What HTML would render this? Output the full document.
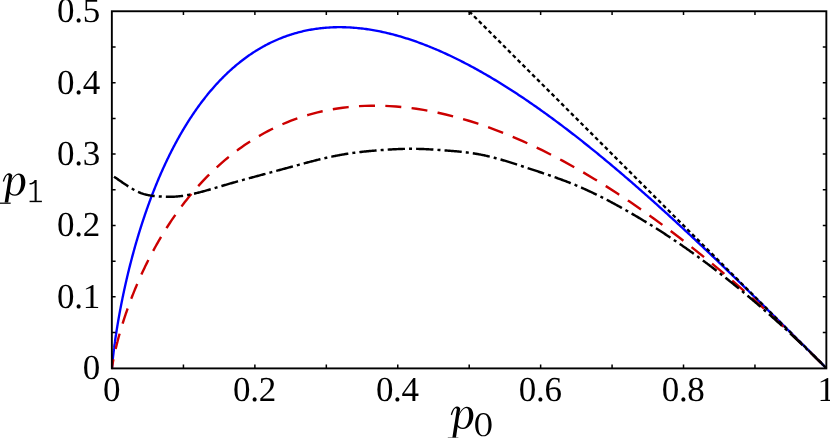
<!DOCTYPE html>
<html>
<head>
<meta charset="utf-8">
<title>p1 vs p0</title>
<style>
html,body{margin:0;padding:0;background:#fff;}
body{width:830px;height:438px;overflow:hidden;font-family:"Liberation Serif",serif;}
svg{display:block;will-change:transform;}
text{font-family:"Liberation Serif",serif;fill:#000;text-rendering:geometricPrecision;}
</style>
</head>
<body>
<svg width="830" height="438" viewBox="0 0 830 438">
<rect x="0" y="0" width="830" height="438" fill="#ffffff"/>
<defs><clipPath id="plot"><rect x="112.0" y="11.4" width="715.6" height="358.0"/></clipPath></defs>
<g fill="none" stroke-linejoin="round" clip-path="url(#plot)">
<path d="M112.00,368.20 L112.00,368.20 L112.00,368.20 L112.00,368.20 L112.00,368.20 L112.00,368.20 L112.00,368.20 L112.00,368.20 L112.00,368.20 L112.00,368.20 L112.00,368.20 L112.00,368.20 L112.00,368.20 L112.00,368.20 L112.00,368.20 L112.00,368.20 L112.00,368.20 L112.00,368.20 L112.00,368.20 L112.00,368.20 L112.00,368.20 L112.00,368.20 L112.00,368.20 L112.00,368.20 L112.00,368.20 L112.00,368.20 L112.00,368.20 L112.00,368.20 L112.00,368.20 L112.00,368.20 L112.00,368.20 L112.00,368.20 L112.00,368.20 L112.00,368.20 L112.00,368.20 L112.00,368.20 L112.00,368.20 L112.00,368.20 L112.00,368.20 L112.00,368.20 L112.00,368.20 L112.00,368.20 L112.00,368.20 L112.00,368.20 L112.00,368.20 L112.00,368.20 L112.00,368.20 L112.00,368.20 L112.00,368.20 L112.00,368.20 L112.00,368.20 L112.00,368.20 L112.00,368.20 L112.00,368.20 L112.00,368.20 L112.00,368.20 L112.00,368.20 L112.00,368.20 L112.00,368.20 L112.00,368.20 L112.00,368.20 L112.00,368.20 L112.00,368.20 L112.00,368.20 L112.00,368.20 L112.00,368.20 L112.00,368.20 L112.00,368.20 L112.00,368.20 L112.00,368.20 L112.00,368.20 L112.00,368.20 L112.00,368.20 L112.00,368.20 L112.00,368.20 L112.00,368.20 L112.00,368.20 L112.00,368.20 L112.00,368.20 L112.00,368.20 L112.00,368.20 L112.00,368.20 L112.00,368.20 L112.00,368.20 L112.00,368.20 L112.00,368.20 L112.00,368.20 L112.00,368.20 L112.00,368.20 L112.00,368.20 L112.00,368.20 L112.00,368.20 L112.00,368.20 L112.00,368.20 L112.00,368.20 L112.00,368.20 L112.00,368.20 L112.00,368.20 L112.00,368.20 L112.00,368.20 L112.00,368.20 L112.00,368.20 L112.00,368.20 L112.00,368.20 L112.00,368.20 L112.00,368.20 L112.00,368.20 L112.00,368.20 L112.00,368.20 L112.00,368.20 L112.00,368.20 L112.00,368.20 L112.00,368.20 L112.00,368.20 L112.00,368.20 L112.00,368.20 L112.00,368.20 L112.00,368.20 L112.00,368.20 L112.00,368.20 L112.00,368.20 L112.00,368.20 L112.00,368.20 L112.00,368.20 L112.00,368.20 L112.00,368.20 L112.00,368.20 L112.00,368.20 L112.00,368.20 L112.00,368.20 L112.00,368.20 L112.00,368.20 L112.00,368.20 L112.00,368.20 L112.00,368.20 L112.00,368.20 L112.00,368.20 L112.00,368.20 L112.00,368.20 L112.00,368.20 L112.00,368.20 L112.00,368.20 L112.00,368.20 L112.00,368.20 L112.00,368.20 L112.00,368.20 L112.00,368.20 L112.00,368.20 L112.00,368.20 L112.00,368.20 L112.00,368.20 L112.00,368.20 L112.00,368.20 L112.00,368.20 L112.00,368.20 L112.00,368.20 L112.00,368.20 L112.00,368.20 L112.00,368.20 L112.00,368.20 L112.00,368.20 L112.00,368.20 L112.00,368.20 L112.00,368.20 L112.00,368.20 L112.00,368.20 L112.00,368.20 L112.00,368.20 L112.00,368.20 L112.00,368.20 L112.00,368.20 L112.00,368.20 L112.00,368.20 L112.00,368.20 L112.00,368.20 L112.00,368.20 L112.00,368.20 L112.00,368.20 L112.00,368.20 L112.00,368.20 L112.00,368.20 L112.00,368.20 L112.00,368.20 L112.00,368.20 L112.00,368.20 L112.00,368.20 L112.00,368.20 L112.00,368.20 L112.00,368.20 L112.00,368.20 L112.00,368.20 L112.00,368.20 L112.00,368.20 L112.00,368.20 L112.00,368.20 L112.00,368.20 L112.00,368.20 L112.00,368.20 L112.00,368.20 L112.00,368.20 L112.00,368.20 L112.00,368.20 L112.00,368.20 L112.00,368.20 L112.00,368.20 L112.00,368.20 L112.00,368.20 L112.00,368.20 L112.00,368.20 L112.00,368.20 L112.00,368.20 L112.00,368.20 L112.00,368.20 L112.00,368.20 L112.00,368.20 L112.00,368.20 L112.00,368.20 L112.00,368.20 L112.00,368.20 L112.00,368.20 L112.00,368.20 L112.00,368.20 L112.00,368.20 L112.00,368.20 L112.00,368.20 L112.00,368.20 L112.00,368.20 L112.00,368.20 L112.00,368.20 L112.00,368.20 L112.00,368.20 L112.00,368.20 L112.00,368.20 L112.00,368.20 L112.00,368.20 L112.00,368.20 L112.00,368.20 L112.00,368.20 L112.00,368.20 L112.00,368.20 L112.00,368.20 L112.00,368.20 L112.00,368.20 L112.00,368.20 L112.00,368.20 L112.00,368.20 L112.00,368.20 L112.00,368.20 L112.00,368.20 L112.00,368.20 L112.00,368.20 L112.00,368.20 L112.00,368.20 L112.00,368.20 L112.00,368.20 L112.00,368.20 L112.00,368.20 L112.00,368.20 L112.00,368.20 L112.00,368.20 L112.00,368.20 L112.00,368.20 L112.00,368.20 L112.00,368.20 L112.00,368.20 L112.00,368.20 L112.00,368.20 L112.00,368.20 L112.00,368.20 L112.00,368.20 L112.00,368.20 L112.00,368.20 L112.00,368.20 L112.00,368.20 L112.00,368.20 L112.00,368.20 L112.00,368.20 L112.00,368.20 L112.00,368.20 L112.00,368.20 L112.00,368.20 L112.00,368.20 L112.00,368.20 L112.00,368.20 L112.00,368.20 L112.00,368.20 L112.00,368.20 L112.00,368.20 L112.00,368.20 L112.00,368.20 L112.00,368.20 L112.00,368.20 L112.00,368.20 L112.00,368.20 L112.00,368.20 L112.00,368.20 L112.00,368.20 L112.00,368.20 L112.00,368.20 L112.00,368.20 L112.00,368.20 L112.00,368.20 L112.00,368.20 L112.00,368.20 L112.00,368.20 L112.00,368.20 L112.00,368.20 L112.00,368.20 L112.00,368.20 L112.00,368.20 L112.00,368.20 L112.00,368.20 L112.00,368.20 L112.00,368.20 L112.00,368.20 L112.00,368.20 L112.00,368.20 L112.00,368.20 L112.00,368.20 L112.00,368.20 L112.00,368.20 L112.00,368.20 L112.00,368.20 L112.00,368.20 L112.00,368.20 L112.00,368.20 L112.00,368.20 L112.00,368.20 L112.00,368.20 L112.00,368.20 L112.00,368.20 L112.00,368.20 L112.00,368.20 L112.00,368.20 L112.00,368.20 L112.00,368.20 L112.00,368.20 L112.00,368.20 L112.00,368.20 L112.00,368.20 L112.00,368.20 L112.00,368.20 L112.00,368.20 L112.00,368.20 L112.00,368.20 L112.00,368.20 L112.00,368.20 L112.00,368.20 L112.00,368.20 L112.00,368.20 L112.00,368.20 L112.00,368.20 L112.00,368.20 L112.00,368.20 L112.00,368.20 L112.00,368.20 L112.00,368.20 L112.00,368.20 L112.00,368.20 L112.00,368.20 L112.00,368.20 L112.00,368.20 L112.00,368.20 L112.00,368.20 L112.00,368.20 L112.00,368.20 L112.00,368.20 L112.00,368.20 L112.00,368.20 L112.00,368.20 L112.00,368.20 L112.00,368.20 L112.00,368.20 L112.00,368.20 L112.00,368.20 L112.00,368.20 L112.00,368.20 L112.00,368.20 L112.00,368.20 L112.00,368.20 L112.00,368.20 L112.00,368.20 L112.00,368.20 L112.00,368.20 L112.00,368.20 L112.00,368.20 L112.00,368.20 L112.00,368.20 L112.00,368.20 L112.00,368.20 L112.00,368.20 L112.00,368.20 L112.00,368.20 L112.00,368.20 L112.00,368.20 L112.00,368.20 L112.00,368.20 L112.00,368.20 L112.00,368.20 L112.00,368.20 L112.00,368.20 L112.00,368.20 L112.00,368.20 L112.00,368.20 L112.00,368.20 L112.00,368.20 L112.00,368.20 L112.00,368.20 L112.00,368.20 L112.00,368.20 L112.00,368.20 L112.00,368.20 L112.00,368.20 L112.00,368.20 L112.00,368.20 L112.00,368.20 L112.00,368.20 L112.00,368.20 L112.00,368.20 L112.00,368.20 L112.00,368.20 L112.00,368.20 L112.00,368.20 L112.00,368.20 L112.00,368.20 L112.00,368.20 L112.00,368.20 L112.00,368.20 L112.00,368.20 L112.00,368.20 L112.00,368.20 L112.00,368.20 L112.00,368.20 L112.00,368.20 L112.00,368.20 L112.00,368.20 L112.00,368.20 L112.00,368.20 L112.00,368.20 L112.00,368.20 L112.00,368.20 L112.00,368.20 L112.00,368.20 L112.00,368.20 L112.00,368.20 L112.00,368.20 L112.00,368.20 L112.00,368.20 L112.00,368.20 L112.00,368.20 L112.00,368.20 L112.00,368.20 L112.00,368.20 L112.00,368.20 L112.00,368.20 L112.00,368.20 L112.00,368.20 L112.00,368.20 L112.00,368.20 L112.00,368.20 L112.00,368.20 L112.00,368.20 L112.00,368.20 L112.00,368.20 L112.00,368.20 L112.00,368.20 L112.00,368.20 L112.00,368.20 L112.00,368.20 L112.00,368.20 L112.00,368.20 L112.00,368.20 L112.00,368.20 L112.00,368.20 L112.00,368.20 L112.00,368.20 L112.00,368.20 L112.00,368.20 L112.00,368.20 L112.00,368.20 L112.00,368.20 L112.00,368.20 L112.00,368.20 L112.00,368.20 L112.00,368.20 L112.00,368.20 L112.00,368.20 L112.00,368.20 L112.00,368.20 L112.00,368.20 L112.00,368.20 L112.00,368.20 L112.00,368.20 L112.00,368.20 L112.00,368.20 L112.00,368.20 L112.00,368.20 L112.00,368.20 L112.00,368.20 L112.00,368.20 L112.00,368.20 L112.00,368.20 L112.00,368.20 L112.00,368.20 L112.00,368.20 L112.00,368.20 L112.00,368.20 L112.00,368.20 L112.00,368.20 L112.00,368.20 L112.00,368.20 L112.00,368.20 L112.00,368.20 L112.00,368.20 L112.00,368.20 L112.00,368.20 L112.00,368.20 L112.00,368.20 L112.00,368.20 L112.00,368.20 L112.00,368.20 L112.00,368.20 L112.00,368.20 L112.00,368.20 L112.00,368.20 L112.00,368.20 L112.00,368.20 L112.00,368.20 L112.00,368.20 L112.00,368.20 L112.00,368.20 L112.00,368.20 L112.00,368.20 L112.00,368.20 L112.00,368.20 L112.00,368.20 L112.00,368.20 L112.00,368.20 L112.00,368.20 L112.00,368.20 L112.00,368.20 L112.00,368.20 L112.00,368.20 L112.00,368.20 L112.00,368.20 L112.00,368.20 L112.00,368.20 L112.00,368.20 L112.00,368.20 L112.00,368.20 L112.00,368.20 L112.00,368.20 L112.00,368.20 L112.00,368.20 L112.00,368.20 L112.00,368.20 L112.00,368.20 L112.00,368.20 L112.00,368.20 L112.00,368.20 L112.00,368.20 L112.00,368.20 L112.00,368.20 L112.00,368.20 L112.00,368.20 L112.00,368.20 L112.00,368.20 L112.00,368.20 L112.00,368.20 L112.00,368.20 L112.00,368.20 L112.00,368.20 L112.00,368.20 L112.00,368.20 L112.00,368.20 L112.00,368.20 L112.00,368.20 L112.00,368.20 L112.00,368.20 L112.00,368.20 L112.00,368.20 L112.00,368.20 L112.00,368.20 L112.00,368.20 L112.00,368.20 L112.00,368.20 L112.00,368.20 L112.00,368.20 L112.00,368.20 L112.00,368.20 L112.00,368.20 L112.00,368.20 L112.00,368.20 L112.00,368.20 L112.00,368.20 L112.00,368.20 L112.00,368.20 L112.00,368.20 L112.00,368.20 L112.00,368.20 L112.00,368.20 L112.00,368.20 L112.00,368.20 L112.00,368.20 L112.00,368.20 L112.00,368.20 L112.00,368.20 L112.00,368.20 L112.00,368.20 L112.00,368.20 L112.00,368.20 L112.00,368.20 L112.00,368.20 L112.00,368.20 L112.00,368.20 L112.00,368.20 L112.00,368.20 L112.00,368.20 L112.00,368.20 L112.00,368.20 L112.00,368.20 L112.00,368.20 L112.00,368.20 L112.00,368.20 L112.00,368.20 L112.00,368.20 L112.00,368.20 L112.00,368.20 L112.00,368.20 L112.00,368.20 L112.00,368.20 L112.00,368.20 L112.00,368.20 L112.00,368.20 L112.00,368.20 L112.00,368.20 L112.00,368.20 L112.00,368.20 L112.00,368.20 L112.00,368.20 L112.00,368.20 L112.00,368.20 L112.00,368.20 L112.00,368.20 L112.00,368.20 L112.00,368.20 L112.00,368.20 L112.00,368.20 L112.00,368.20 L112.00,368.20 L112.00,368.20 L112.00,368.20 L112.00,368.20 L112.00,368.20 L112.00,368.20 L112.00,368.20 L112.00,368.20 L112.00,368.20 L112.00,368.20 L112.00,368.20 L112.00,368.20 L112.00,368.20 L112.00,368.20 L112.00,368.20 L112.00,368.20 L112.00,368.20 L112.00,368.20 L112.00,368.20 L112.00,368.20 L112.00,368.20 L112.00,368.20 L112.00,368.20 L112.00,368.20 L112.00,368.20 L112.00,368.20 L112.00,368.20 L112.00,368.20 L112.00,368.20 L112.00,368.20 L112.00,368.20 L112.00,368.20 L112.00,368.20 L112.00,368.20 L112.00,368.20 L112.00,368.20 L112.00,368.20 L112.00,368.20 L112.00,368.20 L112.00,368.20 L112.00,368.20 L112.00,368.20 L112.00,368.20 L112.00,368.20 L112.00,368.20 L112.00,368.20 L112.00,368.20 L112.00,368.20 L112.00,368.20 L112.00,368.20 L112.00,368.20 L112.00,368.20 L112.00,368.20 L112.00,368.20 L112.00,368.20 L112.00,368.20 L112.00,368.20 L112.00,368.20 L112.00,368.20 L112.00,368.20 L112.00,368.20 L112.00,368.20 L112.00,368.20 L112.00,368.20 L112.00,368.20 L112.00,368.20 L112.00,368.20 L112.00,368.20 L112.00,368.20 L112.00,368.20 L112.00,368.20 L112.00,368.20 L112.00,368.20 L112.00,368.20 L112.00,368.20 L112.00,368.20 L112.00,368.20 L112.00,368.20 L112.00,368.20 L112.00,368.20 L112.00,368.20 L112.00,368.20 L112.00,368.20 L112.00,368.20 L112.00,368.20 L112.00,368.20 L112.00,368.20 L112.00,368.20 L112.00,368.20 L112.00,368.20 L112.00,368.20 L112.00,368.20 L112.00,368.20 L112.00,368.20 L112.00,368.20 L112.00,368.20 L112.00,368.20 L112.00,368.20 L112.00,368.20 L112.00,368.20 L112.00,368.20 L112.00,368.20 L112.00,368.20 L112.00,368.20 L112.00,368.20 L112.00,368.20 L112.00,368.20 L112.00,368.20 L112.00,368.20 L112.00,368.20 L112.00,368.20 L112.00,368.20 L112.00,368.20 L112.00,368.20 L112.00,368.20 L112.00,368.20 L112.00,368.20 L112.00,368.20 L112.00,368.20 L112.00,368.20 L112.00,368.20 L112.00,368.20 L112.00,368.20 L112.00,368.20 L112.00,368.20 L112.00,368.20 L112.00,368.20 L112.00,368.20 L112.00,368.20 L112.00,368.20 L112.00,368.20 L112.00,368.20 L112.00,368.20 L112.00,368.20 L112.00,368.20 L112.00,368.20 L112.00,368.20 L112.00,368.20 L112.00,368.20 L112.00,368.20 L112.00,368.20 L112.00,368.20 L112.00,368.20 L112.00,368.20 L112.00,368.20 L112.00,368.20 L112.00,368.20 L112.00,368.20 L112.00,368.20 L112.00,368.20 L112.00,368.20 L112.00,368.20 L112.00,368.20 L112.00,368.20 L112.00,368.20 L112.00,368.20 L112.00,368.20 L112.00,368.20 L112.00,368.20 L112.00,368.20 L112.00,368.20 L112.00,368.20 L112.00,368.20 L112.00,368.20 L112.00,368.20 L112.00,368.20 L112.00,368.20 L112.00,368.20 L112.00,368.20 L112.00,368.20 L112.00,368.20 L112.00,368.20 L112.00,368.20 L112.00,368.20 L112.00,368.20 L112.00,368.20 L112.00,368.20 L112.00,368.20 L112.00,368.20 L112.00,368.20 L112.00,368.20 L112.00,368.20 L112.00,368.20 L112.00,368.20 L112.00,368.20 L112.00,368.20 L112.00,368.20 L112.00,368.20 L112.00,368.20 L112.00,368.20 L112.00,368.20 L112.00,368.20 L112.00,368.20 L112.00,368.20 L112.00,368.20 L112.00,368.20 L112.00,368.20 L112.00,368.20 L112.00,368.20 L112.00,368.20 L112.00,368.20 L112.00,368.20 L112.00,368.20 L112.00,368.20 L112.00,368.20 L112.00,368.20 L112.00,368.20 L112.00,368.20 L112.00,368.20 L112.00,368.20 L112.00,368.20 L112.00,368.20 L112.00,368.20 L112.00,368.20 L112.00,368.20 L112.00,368.20 L112.00,368.20 L112.00,368.20 L112.00,368.20 L112.00,368.20 L112.00,368.20 L112.00,368.20 L112.00,368.20 L112.00,368.20 L112.00,368.20 L112.00,368.20 L112.00,368.20 L112.00,368.20 L112.00,368.20 L112.00,368.20 L112.00,368.20 L112.00,368.20 L112.00,368.20 L112.00,368.20 L112.00,368.20 L112.00,368.20 L112.00,368.20 L112.00,368.20 L112.00,368.19 L112.00,368.19 L112.00,368.19 L112.00,368.19 L112.00,368.19 L112.00,368.19 L112.00,368.19 L112.00,368.19 L112.00,368.19 L112.00,368.19 L112.00,368.19 L112.00,368.19 L112.00,368.19 L112.00,368.19 L112.00,368.19 L112.00,368.19 L112.00,368.19 L112.00,368.19 L112.00,368.19 L112.00,368.19 L112.00,368.19 L112.00,368.19 L112.00,368.19 L112.00,368.19 L112.00,368.18 L112.00,368.18 L112.00,368.18 L112.00,368.18 L112.00,368.18 L112.00,368.18 L112.00,368.18 L112.00,368.18 L112.00,368.18 L112.00,368.18 L112.00,368.18 L112.00,368.18 L112.00,368.18 L112.00,368.17 L112.00,368.17 L112.00,368.17 L112.00,368.17 L112.00,368.17 L112.00,368.17 L112.00,368.17 L112.00,368.17 L112.00,368.16 L112.00,368.16 L112.00,368.16 L112.00,368.16 L112.00,368.16 L112.00,368.16 L112.00,368.15 L112.00,368.15 L112.00,368.15 L112.00,368.15 L112.00,368.15 L112.00,368.14 L112.00,368.14 L112.00,368.14 L112.00,368.14 L112.00,368.14 L112.00,368.13 L112.00,368.13 L112.00,368.13 L112.00,368.13 L112.00,368.12 L112.00,368.12 L112.00,368.12 L112.00,368.11 L112.00,368.11 L112.00,368.11 L112.00,368.10 L112.00,368.10 L112.00,368.10 L112.01,368.09 L112.01,368.09 L112.01,368.08 L112.01,368.08 L112.01,368.08 L112.01,368.07 L112.01,368.07 L112.01,368.06 L112.01,368.06 L112.01,368.05 L112.01,368.05 L112.01,368.04 L112.01,368.04 L112.01,368.03 L112.01,368.02 L112.01,368.02 L112.01,368.01 L112.01,368.00 L112.01,368.00 L112.01,367.99 L112.01,367.98 L112.01,367.98 L112.01,367.97 L112.01,367.96 L112.01,367.95 L112.01,367.94 L112.01,367.94 L112.01,367.93 L112.01,367.92 L112.02,367.91 L112.02,367.90 L112.02,367.89 L112.02,367.88 L112.02,367.87 L112.02,367.86 L112.02,367.85 L112.02,367.84 L112.02,367.82 L112.02,367.81 L112.02,367.80 L112.02,367.79 L112.02,367.77 L112.02,367.76 L112.03,367.75 L112.03,367.73 L112.03,367.72 L112.03,367.70 L112.03,367.69 L112.03,367.67 L112.03,367.66 L112.03,367.64 L112.03,367.62 L112.03,367.60 L112.04,367.59 L112.04,367.57 L112.04,367.55 L112.04,367.53 L112.04,367.51 L112.04,367.49 L112.04,367.47 L112.04,367.45 L112.05,367.42 L112.05,367.40 L112.05,367.38 L112.05,367.35 L112.05,367.33 L112.05,367.30 L112.06,367.28 L112.06,367.25 L112.06,367.23 L112.06,367.20 L112.06,367.17 L112.07,367.14 L112.07,367.11 L112.07,367.08 L112.07,367.05 L112.07,367.02 L112.08,366.98 L112.08,366.95 L112.08,366.92 L112.08,366.88 L112.09,366.84 L112.09,366.81 L112.09,366.77 L112.10,366.73 L112.10,366.69 L112.10,366.65 L112.10,366.61 L112.11,366.57 L112.11,366.53 L112.11,366.48 L112.12,366.44 L112.12,366.39 L112.13,366.34 L112.13,366.29 L112.13,366.25 L112.14,366.20 L112.14,366.14 L112.14,366.09 L112.15,366.04 L112.15,365.98 L112.16,365.93 L112.16,365.87 L112.17,365.81 L112.17,365.75 L112.18,365.69 L112.18,365.63 L112.19,365.56 L112.19,365.50 L112.20,365.43 L112.20,365.36 L112.21,365.30 L112.22,365.23 L112.22,365.15 L112.23,365.08 L112.23,365.01 L112.24,364.93 L112.25,364.85 L112.25,364.77 L112.26,364.69 L112.27,364.61 L112.28,364.52 L112.28,364.44 L112.29,364.35 L112.30,364.26 L112.31,364.17 L112.31,364.08 L112.32,363.98 L112.33,363.89 L112.34,363.79 L112.35,363.69 L112.36,363.59 L112.37,363.48 L112.38,363.38 L112.39,363.27 L112.40,363.16 L112.41,363.05 L112.42,362.93 L112.43,362.82 L112.44,362.70 L112.45,362.58 L112.46,362.46 L112.48,362.33 L112.49,362.21 L112.50,362.08 L112.51,361.95 L112.53,361.82 L112.54,361.68 L112.55,361.54 L112.57,361.40 L112.58,361.26 L112.59,361.11 L112.61,360.97 L112.62,360.82 L112.64,360.66 L112.65,360.51 L112.67,360.35 L112.69,360.19 L112.70,360.03 L112.72,359.86 L112.74,359.69 L112.76,359.52 L112.77,359.35 L112.79,359.17 L112.81,358.99 L112.83,358.81 L112.85,358.63 L112.87,358.44 L112.89,358.25 L112.91,358.05 L112.93,357.86 L112.95,357.66 L112.98,357.45 L113.00,357.25 L113.02,357.04 L113.05,356.83 L113.07,356.61 L113.09,356.39 L113.12,356.17 L113.14,355.94 L113.17,355.71 L113.20,355.48 L113.22,355.25 L113.25,355.01 L113.28,354.77 L113.31,354.52 L113.34,354.27 L113.37,354.02 L113.40,353.76 L113.43,353.50 L113.46,353.24 L113.49,352.97 L113.52,352.70 L113.56,352.43 L113.59,352.15 L113.62,351.86 L113.66,351.58 L113.69,351.29 L113.73,351.00 L113.77,350.70 L113.80,350.40 L113.84,350.09 L113.88,349.78 L113.92,349.47 L113.96,349.15 L114.00,348.83 L114.04,348.50 L114.09,348.17 L114.13,347.84 L114.17,347.50 L114.22,347.16 L114.26,346.81 L114.31,346.46 L114.36,346.10 L114.40,345.74 L114.45,345.38 L114.50,345.01 L114.55,344.64 L114.60,344.26 L114.65,343.88 L114.71,343.49 L114.76,343.10 L114.82,342.71 L114.87,342.31 L114.93,341.90 L114.99,341.49 L115.04,341.08 L115.10,340.66 L115.16,340.24 L115.22,339.81 L115.29,339.37 L115.35,338.94 L115.41,338.49 L115.48,338.05 L115.55,337.60 L115.61,337.14 L115.68,336.68 L115.75,336.21 L115.82,335.74 L115.89,335.26 L115.97,334.78 L116.04,334.29 L116.11,333.80 L116.19,333.30 L116.27,332.80 L116.35,332.29 L116.43,331.78 L116.51,331.27 L116.59,330.74 L116.67,330.22 L116.76,329.68 L116.84,329.14 L116.93,328.60 L117.02,328.05 L117.11,327.50 L117.20,326.94 L117.29,326.38 L117.39,325.81 L117.48,325.23 L117.58,324.65 L117.67,324.07 L117.77,323.48 L117.87,322.88 L117.98,322.28 L118.08,321.67 L118.18,321.06 L118.29,320.44 L118.40,319.82 L118.51,319.19 L118.62,318.56 L118.73,317.92 L118.85,317.28 L118.96,316.63 L119.08,315.97 L119.20,315.31 L119.32,314.64 L119.44,313.97 L119.56,313.30 L119.69,312.61 L119.82,311.93 L119.94,311.23 L120.08,310.53 L120.21,309.83 L120.34,309.12 L120.48,308.40 L120.61,307.68 L120.75,306.96 L120.89,306.23 L121.04,305.49 L121.18,304.75 L121.33,304.00 L121.48,303.25 L121.63,302.49 L121.78,301.72 L121.93,300.95 L122.09,300.18 L122.25,299.40 L122.41,298.61 L122.57,297.82 L122.73,297.02 L122.90,296.22 L123.07,295.41 L123.24,294.60 L123.41,293.78 L123.58,292.96 L123.76,292.13 L123.94,291.30 L124.12,290.46 L124.30,289.61 L124.49,288.76 L124.67,287.91 L124.86,287.05 L125.05,286.18 L125.25,285.31 L125.44,284.44 L125.64,283.56 L125.84,282.67 L126.05,281.78 L126.25,280.88 L126.46,279.98 L126.67,279.08 L126.88,278.17 L127.10,277.25 L127.31,276.33 L127.53,275.40 L127.75,274.47 L127.98,273.54 L128.21,272.59 L128.44,271.65 L128.67,270.70 L128.90,269.74 L129.14,268.78 L129.38,267.82 L129.62,266.85 L129.87,265.88 L130.11,264.90 L130.36,263.91 L130.62,262.93 L130.87,261.94 L131.13,260.94 L131.39,259.94 L131.66,258.93 L131.92,257.92 L132.19,256.91 L132.46,255.89 L132.74,254.87 L133.01,253.84 L133.30,252.81 L133.58,251.78 L133.86,250.74 L134.15,249.69 L134.45,248.65 L134.74,247.60 L135.04,246.54 L135.34,245.48 L135.64,244.42 L135.95,243.35 L136.26,242.28 L136.57,241.21 L136.89,240.13 L137.21,239.05 L137.53,237.97 L137.85,236.88 L138.18,235.79 L138.51,234.69 L138.85,233.59 L139.19,232.49 L139.53,231.39 L139.87,230.28 L140.22,229.17 L140.57,228.05 L140.92,226.94 L141.28,225.82 L141.64,224.69 L142.00,223.57 L142.37,222.44 L142.74,221.31 L143.11,220.17 L143.49,219.04 L143.87,217.90 L144.25,216.76 L144.64,215.61 L145.03,214.47 L145.42,213.32 L145.82,212.17 L146.22,211.01 L146.63,209.86 L147.03,208.70 L147.45,207.54 L147.86,206.38 L148.28,205.21 L148.70,204.05 L149.13,202.88 L149.55,201.71 L149.99,200.54 L150.42,199.37 L150.86,198.20 L151.31,197.02 L151.75,195.85 L152.21,194.67 L152.66,193.49 L153.12,192.31 L153.58,191.13 L154.05,189.95 L154.52,188.76 L154.99,187.58 L155.47,186.39 L155.95,185.21 L156.43,184.02 L156.92,182.83 L157.41,181.65 L157.91,180.46 L158.41,179.27 L158.91,178.08 L159.42,176.89 L159.93,175.70 L160.45,174.51 L160.97,173.32 L161.49,172.14 L162.02,170.95 L162.55,169.76 L163.09,168.57 L163.62,167.38 L164.17,166.19 L164.72,165.00 L165.27,163.82 L165.82,162.63 L166.38,161.44 L166.95,160.26 L167.51,159.07 L168.08,157.89 L168.66,156.71 L169.24,155.53 L169.82,154.35 L170.41,153.17 L171.00,151.99 L171.60,150.81 L172.20,149.64 L172.81,148.46 L173.41,147.29 L174.03,146.12 L174.64,144.95 L175.27,143.78 L175.89,142.62 L176.52,141.46 L177.16,140.30 L177.79,139.14 L178.44,137.98 L179.08,136.83 L179.73,135.67 L180.39,134.52 L181.05,133.38 L181.71,132.23 L182.38,131.09 L183.05,129.95 L183.73,128.81 L184.41,127.68 L185.10,126.55 L185.79,125.42 L186.48,124.30 L187.18,123.17 L187.88,122.06 L188.59,120.94 L189.30,119.83 L190.02,118.72 L190.74,117.62 L191.46,116.52 L192.19,115.42 L192.92,114.32 L193.66,113.23 L194.40,112.15 L195.15,111.07 L195.90,109.99 L196.66,108.91 L197.42,107.84 L198.18,106.78 L198.95,105.72 L199.72,104.66 L200.50,103.61 L201.28,102.56 L202.07,101.52 L202.86,100.48 L203.66,99.45 L204.46,98.42 L205.26,97.39 L206.07,96.38 L206.88,95.36 L207.70,94.35 L208.52,93.35 L209.35,92.35 L210.18,91.36 L211.02,90.37 L211.86,89.39 L212.70,88.41 L213.55,87.44 L214.40,86.48 L215.26,85.52 L216.12,84.56 L216.99,83.62 L217.86,82.67 L218.74,81.74 L219.62,80.81 L220.50,79.88 L221.39,78.97 L222.29,78.06 L223.19,77.15 L224.09,76.25 L225.00,75.36 L225.91,74.47 L226.82,73.60 L227.74,72.72 L228.67,71.86 L229.60,71.00 L230.53,70.15 L231.47,69.30 L232.42,68.46 L233.36,67.63 L234.32,66.81 L235.27,65.99 L236.23,65.18 L237.20,64.38 L238.17,63.58 L239.14,62.79 L240.12,62.01 L241.11,61.24 L242.09,60.47 L243.09,59.71 L244.08,58.96 L245.08,58.22 L246.09,57.48 L247.10,56.75 L248.11,56.03 L249.13,55.32 L250.15,54.62 L251.18,53.92 L252.21,53.23 L253.25,52.55 L254.29,51.88 L255.33,51.22 L256.38,50.56 L257.44,49.91 L258.50,49.28 L259.56,48.64 L260.62,48.02 L261.69,47.41 L262.77,46.80 L263.85,46.21 L264.93,45.62 L266.02,45.04 L267.11,44.47 L268.21,43.90 L269.31,43.35 L270.42,42.80 L271.53,42.27 L272.64,41.74 L273.76,41.22 L274.88,40.71 L276.01,40.21 L277.14,39.72 L278.27,39.24 L279.41,38.76 L280.55,38.30 L281.70,37.84 L282.85,37.40 L284.01,36.96 L285.17,36.53 L286.33,36.11 L287.50,35.70 L288.67,35.30 L289.85,34.91 L291.03,34.53 L292.21,34.16 L293.40,33.79 L294.59,33.44 L295.79,33.10 L296.99,32.76 L298.19,32.44 L299.40,32.12 L300.61,31.82 L301.83,31.52 L303.05,31.23 L304.27,30.96 L305.50,30.69 L306.73,30.43 L307.97,30.18 L309.21,29.95 L310.45,29.72 L311.70,29.50 L312.95,29.29 L314.21,29.09 L315.47,28.90 L316.73,28.72 L318.00,28.55 L319.27,28.39 L320.54,28.24 L321.82,28.10 L323.10,27.97 L324.38,27.85 L325.67,27.74 L326.96,27.64 L328.26,27.55 L329.56,27.47 L330.86,27.40 L332.17,27.34 L333.48,27.29 L334.80,27.24 L336.11,27.21 L337.43,27.19 L338.76,27.18 L340.09,27.18 L341.42,27.19 L342.75,27.21 L344.09,27.23 L345.43,27.27 L346.78,27.32 L348.13,27.38 L349.48,27.45 L350.83,27.53 L352.19,27.61 L353.56,27.71 L354.92,27.82 L356.29,27.94 L357.66,28.07 L359.04,28.21 L360.41,28.35 L361.80,28.51 L363.18,28.68 L364.57,28.86 L365.96,29.04 L367.35,29.24 L368.75,29.45 L370.15,29.67 L371.55,29.89 L372.96,30.13 L374.37,30.38 L375.78,30.63 L377.20,30.90 L378.62,31.18 L380.04,31.46 L381.46,31.76 L382.89,32.06 L384.32,32.38 L385.75,32.70 L387.19,33.04 L388.62,33.38 L390.07,33.74 L391.51,34.10 L392.96,34.47 L394.41,34.86 L395.86,35.25 L397.31,35.65 L398.77,36.06 L400.23,36.48 L401.69,36.91 L403.16,37.35 L404.63,37.80 L406.10,38.26 L407.57,38.73 L409.04,39.21 L410.52,39.69 L412.00,40.19 L413.48,40.70 L414.97,41.21 L416.46,41.73 L417.95,42.27 L419.44,42.81 L420.93,43.36 L422.43,43.92 L423.93,44.49 L425.43,45.07 L426.93,45.66 L428.44,46.25 L429.94,46.86 L431.45,47.47 L432.97,48.10 L434.48,48.73 L436.00,49.37 L437.51,50.02 L439.03,50.68 L440.56,51.35 L442.08,52.02 L443.61,52.71 L445.13,53.40 L446.66,54.10 L448.19,54.81 L449.73,55.53 L451.26,56.26 L452.80,56.99 L454.34,57.74 L455.88,58.49 L457.42,59.25 L458.97,60.02 L460.51,60.80 L462.06,61.58 L463.61,62.37 L465.16,63.18 L466.71,63.99 L468.26,64.80 L469.82,65.63 L471.37,66.46 L472.93,67.30 L474.49,68.15 L476.05,69.01 L477.61,69.87 L479.18,70.74 L480.74,71.62 L482.31,72.51 L483.88,73.41 L485.44,74.31 L487.01,75.22 L488.59,76.13 L490.16,77.06 L491.73,77.99 L493.31,78.93 L494.88,79.88 L496.46,80.83 L498.03,81.79 L499.61,82.76 L501.19,83.73 L502.77,84.71 L504.36,85.70 L505.94,86.70 L507.52,87.70 L509.10,88.71 L510.69,89.72 L512.28,90.74 L513.86,91.77 L515.45,92.81 L517.04,93.85 L518.63,94.90 L520.22,95.95 L521.81,97.01 L523.40,98.08 L524.99,99.15 L526.58,100.23 L528.17,101.31 L529.76,102.41 L531.36,103.50 L532.95,104.61 L534.54,105.72 L536.14,106.83 L537.73,107.95 L539.33,109.08 L540.92,110.21 L542.52,111.35 L544.12,112.49 L545.71,113.64 L547.31,114.79 L548.91,115.95 L550.50,117.12 L552.10,118.29 L553.70,119.46 L555.29,120.64 L556.89,121.83 L558.49,123.02 L560.09,124.22 L561.68,125.42 L563.28,126.62 L564.88,127.83 L566.47,129.05 L568.07,130.27 L569.67,131.49 L571.26,132.72 L572.86,133.95 L574.46,135.19 L576.05,136.43 L577.65,137.68 L579.24,138.93 L580.84,140.19 L582.43,141.44 L584.02,142.71 L585.62,143.98 L587.21,145.25 L588.80,146.52 L590.40,147.80 L591.99,149.08 L593.58,150.37 L595.17,151.66 L596.76,152.95 L598.35,154.25 L599.94,155.55 L601.52,156.86 L603.11,158.17 L604.70,159.48 L606.28,160.79 L607.87,162.11 L609.45,163.43 L611.03,164.75 L612.61,166.08 L614.20,167.41 L615.78,168.74 L617.36,170.08 L618.93,171.42 L620.51,172.76 L622.09,174.10 L623.66,175.45 L625.24,176.80 L626.81,178.15 L628.38,179.50 L629.95,180.86 L631.52,182.22 L633.09,183.58 L634.66,184.94 L636.22,186.31 L637.79,187.68 L639.35,189.05 L640.91,190.42 L642.47,191.79 L644.03,193.17 L645.59,194.54 L647.15,195.92 L648.70,197.30 L650.25,198.69 L651.81,200.07 L653.36,201.45 L654.90,202.84 L656.45,204.23 L658.00,205.62 L659.54,207.01 L661.08,208.40 L662.62,209.80 L664.16,211.19 L665.70,212.58 L667.23,213.98 L668.77,215.38 L670.30,216.78 L671.83,218.18 L673.36,219.58 L674.88,220.98 L676.41,222.38 L677.93,223.78 L679.45,225.18 L680.97,226.59 L682.49,227.99 L684.00,229.39 L685.51,230.80 L687.02,232.20 L688.53,233.61 L690.04,235.01 L691.54,236.42 L693.04,237.82 L694.54,239.23 L696.04,240.63 L697.54,242.04 L699.03,243.44 L700.52,244.85 L702.01,246.25 L703.49,247.65 L704.98,249.06 L706.46,250.46 L707.94,251.86 L709.41,253.27 L710.89,254.67 L712.36,256.07 L713.83,257.47 L715.30,258.87 L716.76,260.27 L718.22,261.67 L719.68,263.07 L721.14,264.46 L722.59,265.86 L724.04,267.25 L725.49,268.65 L726.94,270.04 L728.38,271.43 L729.82,272.82 L731.26,274.21 L732.69,275.60 L734.13,276.99 L735.56,278.37 L736.98,279.75 L738.41,281.14 L739.83,282.52 L741.25,283.90 L742.66,285.27 L744.07,286.65 L745.48,288.02 L746.89,289.40 L748.29,290.77 L749.70,292.13 L751.09,293.50 L752.49,294.87 L753.88,296.23 L755.27,297.59 L756.65,298.95 L758.04,300.31 L759.41,301.66 L760.79,303.01 L762.16,304.36 L763.53,305.71 L764.90,307.06 L766.26,308.40 L767.62,309.74 L768.98,311.08 L770.33,312.42 L771.68,313.75 L773.03,315.08 L774.37,316.41 L775.72,317.73 L777.05,319.06 L778.39,320.38 L779.72,321.70 L781.04,323.01 L782.37,324.32 L783.69,325.63 L785.00,326.94 L786.32,328.24 L787.63,329.54 L788.93,330.84 L790.23,332.13 L791.53,333.43 L792.83,334.71 L794.12,336.00 L795.41,337.28 L796.69,338.56 L797.97,339.83 L799.25,341.11 L800.52,342.38 L801.79,343.64 L803.06,344.90 L804.32,346.16 L805.58,347.42 L806.84,348.67 L808.09,349.92 L809.34,351.16 L810.58,352.40 L811.82,353.64 L813.06,354.87 L814.29,356.10 L815.52,357.33 L816.74,358.55 L817.96,359.77 L819.18,360.99 L820.39,362.20 L821.60,363.41 L822.81,364.61 L824.01,365.81 L825.21,367.01 L826.40,368.20" stroke="#0000ff" stroke-width="2.35"/>
<path d="M112.00,368.20 L112.00,368.19 L112.00,368.19 L112.00,368.19 L112.00,368.19 L112.00,368.19 L112.00,368.19 L112.00,368.19 L112.00,368.19 L112.00,368.19 L112.00,368.19 L112.00,368.19 L112.00,368.19 L112.00,368.19 L112.00,368.19 L112.00,368.19 L112.00,368.19 L112.00,368.19 L112.00,368.19 L112.00,368.19 L112.00,368.19 L112.00,368.18 L112.00,368.18 L112.00,368.18 L112.00,368.18 L112.00,368.18 L112.00,368.18 L112.00,368.18 L112.00,368.18 L112.00,368.18 L112.00,368.18 L112.00,368.18 L112.00,368.18 L112.00,368.18 L112.00,368.18 L112.00,368.18 L112.00,368.18 L112.00,368.18 L112.00,368.18 L112.00,368.18 L112.00,368.18 L112.00,368.18 L112.00,368.18 L112.00,368.18 L112.00,368.18 L112.00,368.17 L112.00,368.17 L112.00,368.17 L112.00,368.17 L112.00,368.17 L112.00,368.17 L112.00,368.17 L112.00,368.17 L112.00,368.17 L112.00,368.17 L112.00,368.17 L112.00,368.17 L112.00,368.17 L112.00,368.17 L112.00,368.17 L112.00,368.17 L112.00,368.16 L112.00,368.16 L112.00,368.16 L112.00,368.16 L112.00,368.16 L112.00,368.16 L112.00,368.16 L112.00,368.16 L112.00,368.16 L112.00,368.16 L112.00,368.16 L112.00,368.16 L112.00,368.15 L112.00,368.15 L112.00,368.15 L112.00,368.15 L112.00,368.15 L112.00,368.15 L112.00,368.15 L112.00,368.15 L112.00,368.15 L112.00,368.14 L112.00,368.14 L112.00,368.14 L112.00,368.14 L112.01,368.14 L112.01,368.14 L112.01,368.14 L112.01,368.14 L112.01,368.13 L112.01,368.13 L112.01,368.13 L112.01,368.13 L112.01,368.13 L112.01,368.13 L112.01,368.13 L112.01,368.12 L112.01,368.12 L112.01,368.12 L112.01,368.12 L112.01,368.12 L112.01,368.12 L112.01,368.11 L112.01,368.11 L112.01,368.11 L112.01,368.11 L112.01,368.11 L112.01,368.10 L112.01,368.10 L112.01,368.10 L112.01,368.10 L112.01,368.10 L112.01,368.09 L112.01,368.09 L112.01,368.09 L112.01,368.09 L112.01,368.08 L112.01,368.08 L112.01,368.08 L112.01,368.08 L112.01,368.07 L112.01,368.07 L112.01,368.07 L112.01,368.07 L112.01,368.06 L112.01,368.06 L112.01,368.06 L112.01,368.05 L112.01,368.05 L112.01,368.05 L112.01,368.05 L112.01,368.04 L112.02,368.04 L112.02,368.04 L112.02,368.03 L112.02,368.03 L112.02,368.02 L112.02,368.02 L112.02,368.02 L112.02,368.01 L112.02,368.01 L112.02,368.01 L112.02,368.00 L112.02,368.00 L112.02,367.99 L112.02,367.99 L112.02,367.98 L112.02,367.98 L112.02,367.97 L112.02,367.97 L112.02,367.96 L112.02,367.96 L112.02,367.95 L112.02,367.95 L112.02,367.94 L112.03,367.94 L112.03,367.93 L112.03,367.93 L112.03,367.92 L112.03,367.92 L112.03,367.91 L112.03,367.90 L112.03,367.90 L112.03,367.89 L112.03,367.89 L112.03,367.88 L112.03,367.87 L112.03,367.87 L112.03,367.86 L112.04,367.85 L112.04,367.84 L112.04,367.84 L112.04,367.83 L112.04,367.82 L112.04,367.81 L112.04,367.80 L112.04,367.80 L112.04,367.79 L112.04,367.78 L112.04,367.77 L112.05,367.76 L112.05,367.75 L112.05,367.74 L112.05,367.73 L112.05,367.72 L112.05,367.71 L112.05,367.70 L112.05,367.69 L112.05,367.68 L112.06,367.67 L112.06,367.66 L112.06,367.65 L112.06,367.64 L112.06,367.63 L112.06,367.62 L112.06,367.60 L112.07,367.59 L112.07,367.58 L112.07,367.56 L112.07,367.55 L112.07,367.54 L112.07,367.52 L112.08,367.51 L112.08,367.50 L112.08,367.48 L112.08,367.47 L112.08,367.45 L112.08,367.44 L112.09,367.42 L112.09,367.40 L112.09,367.39 L112.09,367.37 L112.09,367.35 L112.10,367.34 L112.10,367.32 L112.10,367.30 L112.10,367.28 L112.11,367.26 L112.11,367.24 L112.11,367.22 L112.11,367.20 L112.12,367.18 L112.12,367.16 L112.12,367.14 L112.13,367.12 L112.13,367.10 L112.13,367.07 L112.13,367.05 L112.14,367.03 L112.14,367.00 L112.14,366.98 L112.15,366.95 L112.15,366.93 L112.15,366.90 L112.16,366.87 L112.16,366.85 L112.17,366.82 L112.17,366.79 L112.17,366.76 L112.18,366.73 L112.18,366.70 L112.19,366.67 L112.19,366.64 L112.19,366.61 L112.20,366.58 L112.20,366.54 L112.21,366.51 L112.21,366.47 L112.22,366.44 L112.22,366.40 L112.23,366.37 L112.23,366.33 L112.24,366.29 L112.24,366.25 L112.25,366.21 L112.26,366.17 L112.26,366.13 L112.27,366.09 L112.27,366.04 L112.28,366.00 L112.29,365.96 L112.29,365.91 L112.30,365.86 L112.31,365.82 L112.32,365.77 L112.32,365.72 L112.33,365.67 L112.34,365.62 L112.35,365.57 L112.35,365.51 L112.36,365.46 L112.37,365.40 L112.38,365.35 L112.39,365.29 L112.40,365.23 L112.41,365.17 L112.42,365.11 L112.43,365.05 L112.44,364.98 L112.45,364.92 L112.46,364.85 L112.47,364.78 L112.48,364.72 L112.49,364.65 L112.50,364.57 L112.51,364.50 L112.52,364.43 L112.54,364.35 L112.55,364.27 L112.56,364.20 L112.57,364.11 L112.59,364.03 L112.60,363.95 L112.61,363.86 L112.63,363.78 L112.64,363.69 L112.66,363.60 L112.67,363.51 L112.69,363.41 L112.71,363.32 L112.72,363.22 L112.74,363.12 L112.76,363.02 L112.77,362.92 L112.79,362.81 L112.81,362.71 L112.83,362.60 L112.85,362.49 L112.87,362.37 L112.89,362.26 L112.91,362.14 L112.93,362.02 L112.95,361.90 L112.98,361.77 L113.00,361.65 L113.02,361.52 L113.05,361.39 L113.07,361.25 L113.09,361.11 L113.12,360.97 L113.15,360.83 L113.17,360.69 L113.20,360.54 L113.23,360.39 L113.26,360.24 L113.29,360.08 L113.32,359.92 L113.35,359.76 L113.38,359.59 L113.41,359.42 L113.44,359.25 L113.48,359.08 L113.51,358.90 L113.55,358.72 L113.58,358.53 L113.62,358.35 L113.66,358.15 L113.70,357.96 L113.74,357.76 L113.78,357.56 L113.82,357.35 L113.86,357.14 L113.90,356.93 L113.95,356.71 L113.99,356.49 L114.04,356.26 L114.09,356.03 L114.14,355.80 L114.19,355.56 L114.24,355.31 L114.29,355.06 L114.34,354.81 L114.40,354.56 L114.45,354.29 L114.51,354.03 L114.57,353.76 L114.63,353.48 L114.69,353.20 L114.75,352.91 L114.82,352.62 L114.88,352.32 L114.95,352.02 L115.02,351.71 L115.09,351.40 L115.16,351.08 L115.24,350.75 L115.31,350.42 L115.39,350.09 L115.47,349.74 L115.55,349.39 L115.63,349.04 L115.72,348.68 L115.80,348.31 L115.89,347.94 L115.98,347.55 L116.08,347.17 L116.17,346.77 L116.27,346.37 L116.37,345.96 L116.47,345.55 L116.57,345.12 L116.68,344.69 L116.79,344.25 L116.90,343.81 L117.02,343.35 L117.13,342.89 L117.25,342.42 L117.38,341.95 L117.50,341.46 L117.63,340.97 L117.76,340.46 L117.89,339.95 L118.03,339.43 L118.17,338.90 L118.32,338.36 L118.46,337.82 L118.62,337.26 L118.77,336.70 L118.93,336.12 L119.09,335.53 L119.25,334.94 L119.42,334.33 L119.60,333.72 L119.77,333.09 L119.96,332.46 L120.14,331.81 L120.33,331.15 L120.53,330.49 L120.72,329.81 L120.93,329.12 L121.14,328.42 L121.35,327.70 L121.57,326.98 L121.79,326.24 L122.02,325.50 L122.25,324.73 L122.49,323.96 L122.74,323.18 L122.99,322.38 L123.24,321.57 L123.51,320.75 L123.78,319.91 L124.05,319.06 L124.33,318.20 L124.62,317.32 L124.91,316.43 L125.21,315.53 L125.52,314.61 L125.84,313.68 L126.16,312.74 L126.49,311.78 L126.83,310.80 L127.18,309.81 L127.53,308.81 L127.89,307.79 L128.26,306.75 L128.64,305.70 L129.03,304.64 L129.43,303.56 L129.83,302.46 L130.25,301.34 L130.68,300.21 L131.11,299.07 L131.56,297.91 L132.01,296.73 L132.48,295.53 L132.96,294.32 L133.45,293.09 L133.95,291.84 L134.46,290.58 L134.99,289.30 L135.52,288.00 L136.07,286.68 L136.63,285.35 L137.21,283.99 L137.80,282.62 L138.40,281.24 L139.01,279.83 L139.64,278.40 L140.29,276.96 L140.95,275.50 L141.62,274.02 L142.31,272.52 L143.02,271.00 L143.75,269.46 L144.49,267.91 L145.24,266.33 L146.02,264.74 L146.81,263.13 L147.63,261.50 L148.46,259.85 L149.31,258.18 L150.18,256.49 L151.07,254.79 L151.98,253.06 L152.91,251.32 L153.87,249.56 L154.85,247.77 L155.85,245.97 L156.87,244.16 L157.92,242.32 L158.99,240.47 L160.08,238.59 L161.20,236.70 L162.35,234.79 L163.53,232.87 L164.73,230.93 L165.96,228.97 L167.22,226.99 L168.51,225.00 L169.83,222.99 L171.18,220.96 L172.56,218.92 L173.97,216.87 L175.41,214.80 L176.89,212.71 L178.41,210.62 L179.96,208.50 L181.54,206.38 L183.17,204.24 L184.83,202.10 L186.53,199.94 L188.26,197.77 L190.04,195.59 L191.86,193.40 L193.73,191.21 L195.64,189.01 L197.59,186.80 L199.58,184.58 L201.63,182.36 L203.72,180.14 L205.86,177.91 L208.05,175.69 L210.29,173.46 L212.58,171.23 L214.93,169.01 L217.33,166.79 L219.79,164.57 L222.30,162.36 L224.88,160.16 L227.51,157.97 L230.21,155.78 L232.96,153.61 L235.79,151.46 L238.67,149.32 L241.63,147.20 L244.65,145.10 L247.75,143.02 L250.92,140.97 L254.16,138.94 L257.48,136.94 L260.87,134.98 L264.34,133.05 L267.90,131.15 L271.54,129.30 L275.26,127.48 L279.07,125.72 L282.96,124.00 L286.95,122.33 L291.04,120.72 L295.21,119.16 L299.49,117.67 L303.86,116.25 L308.34,114.89 L312.92,113.61 L317.61,112.41 L322.41,111.29 L327.31,110.25 L332.34,109.31 L337.48,108.47 L342.74,107.72 L348.12,107.08 L353.63,106.56 L359.27,106.15 L365.04,105.87 L370.94,105.71 L376.99,105.69 L383.17,105.81 L389.50,106.08 L395.97,106.51 L402.60,107.10 L409.38,107.86 L416.32,108.79 L423.42,109.92 L430.68,111.23 L438.12,112.75 L445.73,114.48 L453.51,116.43 L461.48,118.60 L469.64,121.02 L477.98,123.68 L486.52,126.61 L495.26,129.80 L504.20,133.27 L513.35,137.04 L522.72,141.11 L532.30,145.49 L542.10,150.20 L552.14,155.26 L562.41,160.67 L572.92,166.44 L583.67,172.60 L594.68,179.16 L605.94,186.13 L617.46,193.52 L629.26,201.36 L641.33,209.67 L653.68,218.45 L666.32,227.72 L679.25,237.51 L692.49,247.84 L706.03,258.72 L719.89,270.17 L734.07,282.21 L748.59,294.87 L763.44,308.17 L778.64,322.12 L794.19,336.77 L810.11,352.12 L826.40,368.20" stroke="#cc0000" stroke-width="2.4" stroke-dasharray="16 10.35" stroke-dashoffset="6.8"/>
<path d="M114.00,176.70 L114.79,177.23 L115.58,177.76 L116.38,178.30 L117.17,178.84 L117.96,179.38 L118.75,179.93 L119.55,180.47 L120.34,181.02 L121.13,181.57 L121.92,182.12 L122.72,182.66 L123.51,183.20 L124.30,183.74 L125.09,184.28 L125.89,184.81 L126.68,185.34 L127.47,185.86 L128.26,186.37 L129.06,186.88 L129.85,187.37 L130.64,187.86 L131.43,188.34 L132.23,188.81 L133.02,189.27 L133.81,189.71 L134.60,190.15 L135.40,190.57 L136.19,190.97 L136.98,191.36 L137.77,191.74 L138.57,192.09 L139.36,192.44 L140.15,192.76 L140.94,193.07 L141.74,193.35 L142.53,193.62 L143.32,193.88 L144.11,194.12 L144.91,194.34 L145.70,194.55 L146.49,194.74 L147.28,194.92 L148.07,195.09 L148.87,195.25 L149.66,195.39 L150.45,195.53 L151.24,195.65 L152.04,195.76 L152.83,195.87 L153.62,195.96 L154.41,196.05 L155.21,196.13 L156.00,196.20 L156.79,196.27 L157.58,196.33 L158.38,196.39 L159.17,196.44 L159.96,196.49 L160.75,196.54 L161.55,196.58 L162.34,196.62 L163.13,196.66 L163.92,196.69 L164.72,196.72 L165.51,196.75 L166.30,196.77 L167.09,196.78 L167.89,196.80 L168.68,196.80 L169.47,196.80 L170.26,196.79 L171.06,196.78 L171.85,196.77 L172.64,196.74 L173.43,196.71 L174.23,196.68 L175.02,196.63 L175.81,196.59 L176.60,196.53 L177.39,196.47 L178.19,196.40 L178.98,196.32 L179.77,196.24 L180.56,196.15 L181.36,196.05 L182.15,195.95 L182.94,195.84 L183.73,195.72 L184.53,195.59 L185.32,195.46 L186.11,195.32 L186.90,195.17 L187.70,195.02 L188.49,194.87 L189.28,194.71 L190.07,194.55 L190.87,194.38 L191.66,194.21 L192.45,194.04 L193.24,193.86 L194.04,193.68 L194.83,193.50 L195.62,193.31 L196.41,193.12 L197.21,192.93 L198.00,192.74 L198.79,192.54 L199.58,192.34 L200.38,192.14 L201.17,191.93 L201.96,191.72 L202.75,191.51 L203.55,191.30 L204.34,191.08 L205.13,190.86 L205.92,190.64 L206.72,190.42 L207.51,190.19 L208.30,189.97 L209.09,189.74 L209.88,189.51 L210.68,189.28 L211.47,189.04 L212.26,188.81 L213.05,188.57 L213.85,188.34 L214.64,188.10 L215.43,187.86 L216.22,187.63 L217.02,187.39 L217.81,187.15 L218.60,186.92 L219.39,186.68 L220.19,186.44 L220.98,186.21 L221.77,185.97 L222.56,185.74 L223.36,185.50 L224.15,185.27 L224.94,185.04 L225.73,184.81 L226.53,184.58 L227.32,184.35 L228.11,184.12 L228.90,183.89 L229.70,183.66 L230.49,183.44 L231.28,183.21 L232.07,182.98 L232.87,182.76 L233.66,182.53 L234.45,182.31 L235.24,182.09 L236.04,181.86 L236.83,181.64 L237.62,181.42 L238.41,181.20 L239.20,180.98 L240.00,180.76 L240.79,180.54 L241.58,180.32 L242.37,180.10 L243.17,179.88 L243.96,179.66 L244.75,179.44 L245.54,179.22 L246.34,179.01 L247.13,178.79 L247.92,178.57 L248.71,178.36 L249.51,178.14 L250.30,177.93 L251.09,177.71 L251.88,177.49 L252.68,177.28 L253.47,177.06 L254.26,176.85 L255.05,176.63 L255.85,176.42 L256.64,176.21 L257.43,175.99 L258.22,175.78 L259.02,175.56 L259.81,175.35 L260.60,175.14 L261.39,174.92 L262.19,174.71 L262.98,174.49 L263.77,174.28 L264.56,174.07 L265.36,173.85 L266.15,173.64 L266.94,173.43 L267.73,173.21 L268.53,173.00 L269.32,172.79 L270.11,172.57 L270.90,172.36 L271.69,172.15 L272.49,171.93 L273.28,171.72 L274.07,171.51 L274.86,171.29 L275.66,171.08 L276.45,170.87 L277.24,170.65 L278.03,170.44 L278.83,170.23 L279.62,170.01 L280.41,169.80 L281.20,169.58 L282.00,169.37 L282.79,169.16 L283.58,168.94 L284.37,168.73 L285.17,168.51 L285.96,168.30 L286.75,168.08 L287.54,167.87 L288.34,167.65 L289.13,167.44 L289.92,167.22 L290.71,167.01 L291.51,166.79 L292.30,166.57 L293.09,166.36 L293.88,166.14 L294.68,165.93 L295.47,165.71 L296.26,165.50 L297.05,165.28 L297.85,165.06 L298.64,164.85 L299.43,164.63 L300.22,164.42 L301.01,164.21 L301.81,163.99 L302.60,163.78 L303.39,163.57 L304.18,163.35 L304.98,163.14 L305.77,162.93 L306.56,162.72 L307.35,162.51 L308.15,162.30 L308.94,162.09 L309.73,161.89 L310.52,161.68 L311.32,161.47 L312.11,161.27 L312.90,161.07 L313.69,160.86 L314.49,160.66 L315.28,160.46 L316.07,160.26 L316.86,160.06 L317.66,159.87 L318.45,159.67 L319.24,159.48 L320.03,159.29 L320.83,159.09 L321.62,158.90 L322.41,158.72 L323.20,158.53 L324.00,158.34 L324.79,158.16 L325.58,157.98 L326.37,157.80 L327.17,157.62 L327.96,157.44 L328.75,157.27 L329.54,157.09 L330.34,156.92 L331.13,156.75 L331.92,156.59 L332.71,156.42 L333.50,156.26 L334.30,156.10 L335.09,155.94 L335.88,155.78 L336.67,155.63 L337.47,155.48 L338.26,155.33 L339.05,155.18 L339.84,155.03 L340.64,154.89 L341.43,154.75 L342.22,154.61 L343.01,154.48 L343.81,154.34 L344.60,154.21 L345.39,154.08 L346.18,153.96 L346.98,153.83 L347.77,153.71 L348.56,153.59 L349.35,153.47 L350.15,153.35 L350.94,153.24 L351.73,153.13 L352.52,153.02 L353.32,152.91 L354.11,152.80 L354.90,152.69 L355.69,152.59 L356.49,152.49 L357.28,152.39 L358.07,152.29 L358.86,152.20 L359.66,152.10 L360.45,152.01 L361.24,151.92 L362.03,151.83 L362.82,151.74 L363.62,151.65 L364.41,151.57 L365.20,151.49 L365.99,151.41 L366.79,151.33 L367.58,151.25 L368.37,151.17 L369.16,151.09 L369.96,151.02 L370.75,150.95 L371.54,150.87 L372.33,150.80 L373.13,150.73 L373.92,150.66 L374.71,150.60 L375.50,150.53 L376.30,150.47 L377.09,150.40 L377.88,150.34 L378.67,150.28 L379.47,150.22 L380.26,150.16 L381.05,150.10 L381.84,150.04 L382.64,149.99 L383.43,149.93 L384.22,149.88 L385.01,149.82 L385.81,149.77 L386.60,149.72 L387.39,149.67 L388.18,149.62 L388.98,149.57 L389.77,149.52 L390.56,149.47 L391.35,149.43 L392.15,149.38 L392.94,149.34 L393.73,149.29 L394.52,149.25 L395.31,149.21 L396.11,149.17 L396.90,149.13 L397.69,149.10 L398.48,149.06 L399.28,149.03 L400.07,149.00 L400.86,148.97 L401.65,148.95 L402.45,148.92 L403.24,148.90 L404.03,148.88 L404.82,148.86 L405.62,148.84 L406.41,148.83 L407.20,148.82 L407.99,148.81 L408.79,148.80 L409.58,148.79 L410.37,148.79 L411.16,148.79 L411.96,148.79 L412.75,148.80 L413.54,148.81 L414.33,148.82 L415.13,148.83 L415.92,148.84 L416.71,148.86 L417.50,148.88 L418.30,148.89 L419.09,148.92 L419.88,148.94 L420.67,148.97 L421.47,148.99 L422.26,149.02 L423.05,149.05 L423.84,149.09 L424.63,149.12 L425.43,149.15 L426.22,149.19 L427.01,149.23 L427.80,149.27 L428.60,149.31 L429.39,149.35 L430.18,149.40 L430.97,149.44 L431.77,149.49 L432.56,149.54 L433.35,149.59 L434.14,149.64 L434.94,149.69 L435.73,149.74 L436.52,149.79 L437.31,149.85 L438.11,149.90 L438.90,149.95 L439.69,150.01 L440.48,150.07 L441.28,150.12 L442.07,150.18 L442.86,150.24 L443.65,150.30 L444.45,150.36 L445.24,150.42 L446.03,150.48 L446.82,150.54 L447.62,150.60 L448.41,150.66 L449.20,150.72 L449.99,150.79 L450.79,150.85 L451.58,150.92 L452.37,150.98 L453.16,151.05 L453.96,151.12 L454.75,151.19 L455.54,151.26 L456.33,151.33 L457.12,151.40 L457.92,151.48 L458.71,151.56 L459.50,151.63 L460.29,151.71 L461.09,151.80 L461.88,151.88 L462.67,151.97 L463.46,152.05 L464.26,152.14 L465.05,152.24 L465.84,152.33 L466.63,152.43 L467.43,152.53 L468.22,152.63 L469.01,152.74 L469.80,152.84 L470.60,152.95 L471.39,153.07 L472.18,153.18 L472.97,153.30 L473.77,153.42 L474.56,153.55 L475.35,153.68 L476.14,153.81 L476.94,153.94 L477.73,154.08 L478.52,154.22 L479.31,154.37 L480.11,154.52 L480.90,154.67 L481.69,154.83 L482.48,154.99 L483.28,155.15 L484.07,155.32 L484.86,155.49 L485.65,155.67 L486.44,155.84 L487.24,156.03 L488.03,156.21 L488.82,156.40 L489.61,156.59 L490.41,156.78 L491.20,156.98 L491.99,157.17 L492.78,157.38 L493.58,157.58 L494.37,157.79 L495.16,158.00 L495.95,158.21 L496.75,158.42 L497.54,158.64 L498.33,158.86 L499.12,159.08 L499.92,159.31 L500.71,159.53 L501.50,159.76 L502.29,159.99 L503.09,160.22 L503.88,160.46 L504.67,160.69 L505.46,160.93 L506.26,161.17 L507.05,161.41 L507.84,161.65 L508.63,161.90 L509.43,162.14 L510.22,162.39 L511.01,162.64 L511.80,162.89 L512.60,163.14 L513.39,163.39 L514.18,163.64 L514.97,163.90 L515.77,164.15 L516.56,164.41 L517.35,164.67 L518.14,164.92 L518.93,165.18 L519.73,165.44 L520.52,165.70 L521.31,165.96 L522.10,166.22 L522.90,166.48 L523.69,166.74 L524.48,167.01 L525.27,167.27 L526.07,167.53 L526.86,167.79 L527.65,168.05 L528.44,168.31 L529.24,168.58 L530.03,168.84 L530.82,169.10 L531.61,169.36 L532.41,169.62 L533.20,169.89 L533.99,170.15 L534.78,170.41 L535.58,170.67 L536.37,170.93 L537.16,171.20 L537.95,171.46 L538.75,171.72 L539.54,171.99 L540.33,172.25 L541.12,172.52 L541.92,172.78 L542.71,173.05 L543.50,173.32 L544.29,173.58 L545.09,173.85 L545.88,174.12 L546.67,174.39 L547.46,174.66 L548.25,174.93 L549.05,175.21 L549.84,175.48 L550.63,175.76 L551.42,176.03 L552.22,176.31 L553.01,176.59 L553.80,176.86 L554.59,177.14 L555.39,177.43 L556.18,177.71 L556.97,177.99 L557.76,178.28 L558.56,178.56 L559.35,178.85 L560.14,179.14 L560.93,179.43 L561.73,179.73 L562.52,180.02 L563.31,180.32 L564.10,180.62 L564.90,180.92 L565.69,181.22 L566.48,181.52 L567.27,181.83 L568.07,182.13 L568.86,182.44 L569.65,182.75 L570.44,183.07 L571.24,183.38 L572.03,183.70 L572.82,184.02 L573.61,184.34 L574.41,184.66 L575.20,184.99 L575.99,185.32 L576.78,185.65 L577.58,185.98 L578.37,186.32 L579.16,186.66 L579.95,187.00 L580.74,187.34 L581.54,187.69 L582.33,188.03 L583.12,188.38 L583.91,188.74 L584.71,189.09 L585.50,189.45 L586.29,189.81 L587.08,190.17 L587.88,190.53 L588.67,190.90 L589.46,191.27 L590.25,191.63 L591.05,192.01 L591.84,192.38 L592.63,192.76 L593.42,193.14 L594.22,193.52 L595.01,193.90 L595.80,194.28 L596.59,194.67 L597.39,195.06 L598.18,195.45 L598.97,195.84 L599.76,196.24 L600.56,196.63 L601.35,197.03 L602.14,197.43 L602.93,197.83 L603.73,198.24 L604.52,198.64 L605.31,199.05 L606.10,199.46 L606.90,199.87 L607.69,200.29 L608.48,200.70 L609.27,201.12 L610.06,201.54 L610.86,201.96 L611.65,202.38 L612.44,202.80 L613.23,203.23 L614.03,203.66 L614.82,204.08 L615.61,204.51 L616.40,204.95 L617.20,205.38 L617.99,205.81 L618.78,206.25 L619.57,206.69 L620.37,207.13 L621.16,207.57 L621.95,208.01 L622.74,208.46 L623.54,208.90 L624.33,209.35 L625.12,209.80 L625.91,210.25 L626.71,210.70 L627.50,211.15 L628.29,211.61 L629.08,212.06 L629.88,212.52 L630.67,212.98 L631.46,213.44 L632.25,213.90 L633.05,214.36 L633.84,214.82 L634.63,215.28 L635.42,215.75 L636.22,216.22 L637.01,216.68 L637.80,217.15 L638.59,217.62 L639.39,218.09 L640.18,218.56 L640.97,219.03 L641.76,219.51 L642.55,219.98 L643.35,220.45 L644.14,220.93 L644.93,221.41 L645.72,221.89 L646.52,222.37 L647.31,222.85 L648.10,223.34 L648.89,223.82 L649.69,224.31 L650.48,224.80 L651.27,225.29 L652.06,225.78 L652.86,226.28 L653.65,226.77 L654.44,227.27 L655.23,227.77 L656.03,228.27 L656.82,228.77 L657.61,229.27 L658.40,229.77 L659.20,230.28 L659.99,230.79 L660.78,231.30 L661.57,231.81 L662.37,232.32 L663.16,232.83 L663.95,233.34 L664.74,233.86 L665.54,234.38 L666.33,234.90 L667.12,235.42 L667.91,235.94 L668.71,236.46 L669.50,236.99 L670.29,237.51 L671.08,238.04 L671.87,238.57 L672.67,239.10 L673.46,239.64 L674.25,240.17 L675.04,240.70 L675.84,241.24 L676.63,241.78 L677.42,242.32 L678.21,242.86 L679.01,243.40 L679.80,243.95 L680.59,244.49 L681.38,245.04 L682.18,245.59 L682.97,246.14 L683.76,246.69 L684.55,247.24 L685.35,247.80 L686.14,248.35 L686.93,248.91 L687.72,249.47 L688.52,250.03 L689.31,250.59 L690.10,251.15 L690.89,251.72 L691.69,252.28 L692.48,252.85 L693.27,253.42 L694.06,253.99 L694.86,254.56 L695.65,255.13 L696.44,255.71 L697.23,256.28 L698.03,256.86 L698.82,257.44 L699.61,258.02 L700.40,258.60 L701.20,259.18 L701.99,259.77 L702.78,260.35 L703.57,260.94 L704.36,261.53 L705.16,262.12 L705.95,262.71 L706.74,263.30 L707.53,263.89 L708.33,264.49 L709.12,265.09 L709.91,265.69 L710.70,266.29 L711.50,266.89 L712.29,267.49 L713.08,268.09 L713.87,268.70 L714.67,269.31 L715.46,269.91 L716.25,270.52 L717.04,271.13 L717.84,271.75 L718.63,272.36 L719.42,272.97 L720.21,273.59 L721.01,274.21 L721.80,274.83 L722.59,275.45 L723.38,276.07 L724.18,276.69 L724.97,277.32 L725.76,277.94 L726.55,278.57 L727.35,279.20 L728.14,279.83 L728.93,280.46 L729.72,281.10 L730.52,281.73 L731.31,282.37 L732.10,283.00 L732.89,283.64 L733.68,284.28 L734.48,284.92 L735.27,285.56 L736.06,286.21 L736.85,286.85 L737.65,287.50 L738.44,288.15 L739.23,288.80 L740.02,289.45 L740.82,290.10 L741.61,290.75 L742.40,291.41 L743.19,292.06 L743.99,292.72 L744.78,293.38 L745.57,294.04 L746.36,294.70 L747.16,295.36 L747.95,296.03 L748.74,296.69 L749.53,297.36 L750.33,298.03 L751.12,298.70 L751.91,299.37 L752.70,300.04 L753.50,300.71 L754.29,301.39 L755.08,302.06 L755.87,302.74 L756.67,303.42 L757.46,304.10 L758.25,304.78 L759.04,305.46 L759.84,306.15 L760.63,306.83 L761.42,307.52 L762.21,308.21 L763.01,308.90 L763.80,309.59 L764.59,310.28 L765.38,310.97 L766.17,311.67 L766.97,312.36 L767.76,313.06 L768.55,313.76 L769.34,314.46 L770.14,315.16 L770.93,315.86 L771.72,316.56 L772.51,317.27 L773.31,317.98 L774.10,318.68 L774.89,319.39 L775.68,320.10 L776.48,320.81 L777.27,321.53 L778.06,322.24 L778.85,322.96 L779.65,323.67 L780.44,324.39 L781.23,325.11 L782.02,325.83 L782.82,326.55 L783.61,327.27 L784.40,328.00 L785.19,328.72 L785.99,329.45 L786.78,330.18 L787.57,330.91 L788.36,331.64 L789.16,332.37 L789.95,333.11 L790.74,333.84 L791.53,334.58 L792.33,335.31 L793.12,336.05 L793.91,336.79 L794.70,337.53 L795.49,338.27 L796.29,339.02 L797.08,339.76 L797.87,340.51 L798.66,341.26 L799.46,342.00 L800.25,342.75 L801.04,343.51 L801.83,344.26 L802.63,345.01 L803.42,345.77 L804.21,346.52 L805.00,347.28 L805.80,348.04 L806.59,348.80 L807.38,349.56 L808.17,350.32 L808.97,351.09 L809.76,351.85 L810.55,352.62 L811.34,353.38 L812.14,354.15 L812.93,354.92 L813.72,355.69 L814.51,356.47 L815.31,357.24 L816.10,358.01 L816.89,358.79 L817.68,359.57 L818.48,360.35 L819.27,361.13 L820.06,361.91 L820.85,362.69 L821.65,363.47 L822.44,364.26 L823.23,365.04 L824.02,365.83 L824.82,366.62 L825.61,367.41 L826.40,368.20" stroke="#000" stroke-width="2.45" stroke-dasharray="17.3 4.07 3 4.07"/>
<path d="M469.20,11.40 L826.40,368.20" stroke="#000" stroke-width="2.35" stroke-dasharray="3.9 2.95"/>
</g>
<g fill="none" stroke="#000">
<rect x="111.85" y="11.25" width="714.50" height="357.15" stroke-width="1.9"/>
<path d="M183.44,368.20 v-3.60 M183.44,11.40 v3.60 M254.88,368.20 v-3.60 M254.88,11.40 v3.60 M326.32,368.20 v-3.60 M326.32,11.40 v3.60 M397.76,368.20 v-3.60 M397.76,11.40 v3.60 M469.20,368.20 v-3.60 M469.20,11.40 v3.60 M540.64,368.20 v-3.60 M540.64,11.40 v3.60 M612.08,368.20 v-3.60 M612.08,11.40 v3.60 M683.52,368.20 v-3.60 M683.52,11.40 v3.60 M754.96,368.20 v-3.60 M754.96,11.40 v3.60 M112.00,332.52 h3.60 M826.40,332.52 h-3.60 M112.00,296.84 h3.60 M826.40,296.84 h-3.60 M112.00,261.16 h3.60 M826.40,261.16 h-3.60 M112.00,225.48 h3.60 M826.40,225.48 h-3.60 M112.00,189.80 h3.60 M826.40,189.80 h-3.60 M112.00,154.12 h3.60 M826.40,154.12 h-3.60 M112.00,118.44 h3.60 M826.40,118.44 h-3.60 M112.00,82.76 h3.60 M826.40,82.76 h-3.60 M112.00,47.08 h3.60 M826.40,47.08 h-3.60" stroke-width="1.5"/>
</g>
<g font-size="35" letter-spacing="-0.3">
<text x="99.9" y="379.10" text-anchor="end">0</text>
<text x="99.9" y="307.74" text-anchor="end">0.1</text>
<text x="99.9" y="236.38" text-anchor="end">0.2</text>
<text x="99.9" y="165.02" text-anchor="end">0.3</text>
<text x="99.9" y="93.66" text-anchor="end">0.4</text>
<text x="99.9" y="22.30" text-anchor="end">0.5</text>
<text x="111.60" y="400.6" text-anchor="middle">0</text>
<text x="254.48" y="400.6" text-anchor="middle">0.2</text>
<text x="397.36" y="400.6" text-anchor="middle">0.4</text>
<text x="540.24" y="400.6" text-anchor="middle">0.6</text>
<text x="683.12" y="400.6" text-anchor="middle">0.8</text>
<text x="826.00" y="400.6" text-anchor="middle">1</text>
</g>
<g transform="translate(0.00,165.00) scale(0.10267)" fill="#000" >
<path d="M27,159 C37,120 56,84 86,80 C104,78 115,88 119,106 L90,112 C86,98 76,94 69,99 C57,108 45,140 39,164 Z"/>
<path d="M87,100 L119,100 L80.0,366 L45.0,366 Z"/>
<path d="M0,366 L104,366 L104,378 L0,378 Z"/>
<path d="M107,158 C122,120 150,84 182,83 C224,82 248,120 247,170 C245,240 198,300 146,300 C114,300 92,284 82,262 L86,238 C96,272 120,288 146,288 C182,288 207,225 206,165 C205,122 198,95 176,95 C152,95 124,132 103,180 Z"/>
</g>
<g transform="translate(0.00,165.00) scale(0.10267)" fill="#000" >
<path d="M337,146 L357,146 L357,350 L337,350 Z"/>
<path d="M288,348 L408,348 L408,362 L288,362 Z"/>
<path d="M288,176 C310,176 328,166 340,146 L348,146 L348,168 C330,184 310,190 288,190 Z"/>
</g>
<g transform="translate(448.00,398.30) scale(0.10267)" fill="#000" >
<path d="M27,159 C37,120 56,84 86,80 C104,78 115,88 119,106 L90,112 C86,98 76,94 69,99 C57,108 45,140 39,164 Z"/>
<path d="M87,100 L119,100 L77.8,383 L42.8,383 Z"/>
<path d="M-2,383 L101,383 L101,395 L-2,395 Z"/>
<path d="M107,158 C122,120 150,84 182,83 C224,82 248,120 247,170 C245,240 198,300 146,300 C114,300 92,284 82,262 L86,238 C96,272 120,288 146,288 C182,288 207,225 206,165 C205,122 198,95 176,95 C152,95 124,132 103,180 Z"/>
</g>
<g transform="translate(440.00,398.00) scale(0.09132)" fill="#000" fill-rule="evenodd">
<path d="M475,165 C530,165 565,215 565,292 C565,370 530,420 475,420 C420,420 385,370 385,292 C385,215 420,165 475,165 Z M475,177 C442,177 419,206 419,292 C419,379 442,408 475,408 C508,408 531,379 531,292 C531,206 508,177 475,177 Z"/>
</g>
</svg>
</body>
</html>
